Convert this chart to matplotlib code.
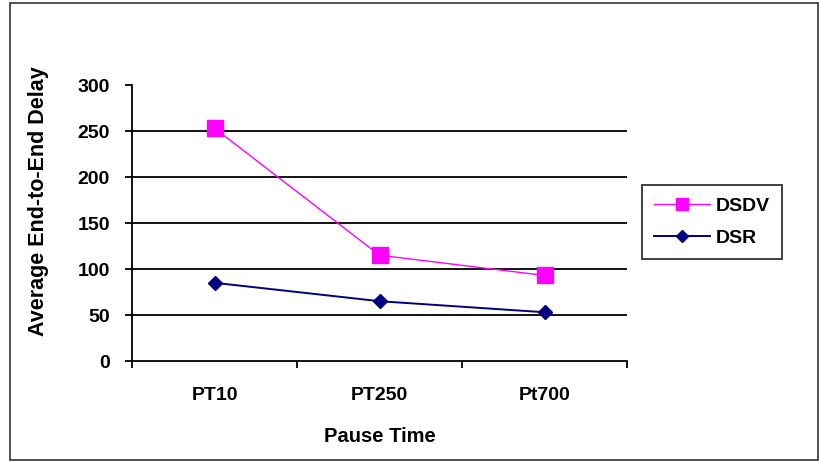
import numpy as np
import matplotlib.pyplot as plt
from matplotlib.patches import Rectangle

# ── Data ──────────────────────────────────────────────────────────────────────
categories = ["PT10", "PT250", "Pt700"]
dsdv = [253, 115, 93]
dsr = [85, 65, 53]
y_ticks = [0, 50, 100, 150, 200, 250, 300]

plt.rcParams["font.family"] = ["Liberation Sans", "DejaVu Sans"]
plt.rcParams["font.weight"] = "bold"

fig = plt.figure(figsize=(8.2, 4.62), dpi=100)
ax = fig.add_axes([0.161, 0.2186, 0.6037, 0.5974])

x = np.arange(len(categories))

# gridlines (no line at the top value)
for yv in y_ticks[1:-1]:
    ax.axhline(yv, color="black", lw=1.3, zorder=1)

ax.plot(x, dsdv, color="#FF00FF", lw=1.0, marker="s", ms=11.5,
        mfc="#FF00FF", mec="#FF00FF", label="DSDV", zorder=3)
ax.plot(x, dsr, color="#000080", lw=1.4, marker="D", ms=7.5,
        mfc="#000080", mec="#000080", label="DSR", zorder=3)

ax.set_xlim(-0.5, len(categories) - 0.5)
ax.set_ylim(0, 300)
ax.set_yticks(y_ticks)
ax.set_yticklabels([str(v) for v in y_ticks], fontsize=14, fontweight="bold")

ax.set_xticks(x)
ax.set_xticklabels(categories, fontsize=14, fontweight="bold")
ax.tick_params(axis="x", which="major", length=0, pad=19)
ax.set_xticks(np.arange(len(categories) + 1) - 0.5, minor=True)
ax.tick_params(axis="x", which="minor", length=5, width=1.3, direction="out")
ax.tick_params(axis="y", length=5, width=1.3, direction="out", pad=11)

for s in ["top", "right"]:
    ax.spines[s].set_visible(False)
for s in ["left", "bottom"]:
    ax.spines[s].set_linewidth(1.3)

ax.set_xlabel("Pause Time", fontsize=14.5, fontweight="bold", labelpad=16)
ax.set_ylabel("Average End-to-End Delay", fontsize=15.5, fontweight="bold")
ax.yaxis.set_label_coords(-0.167, 0.58)

leg = ax.legend(loc="center left", bbox_to_anchor=(642 / 820, 240 / 462),
                bbox_transform=fig.transFigure, borderaxespad=0,
                fontsize=14, frameon=True, fancybox=False, edgecolor="black",
                handlelength=2.9, handletextpad=0.3, labelspacing=0.75,
                borderpad=0.6, markerscale=0.8)
leg.get_frame().set_linewidth(1.3)

# outer chart frame
fig.patches.append(Rectangle((10 / 820, 2 / 462), 808 / 820, 457 / 462,
                             transform=fig.transFigure, fill=False,
                             edgecolor="#333333", lw=1.2))

fig.savefig("out.png", dpi=100)
